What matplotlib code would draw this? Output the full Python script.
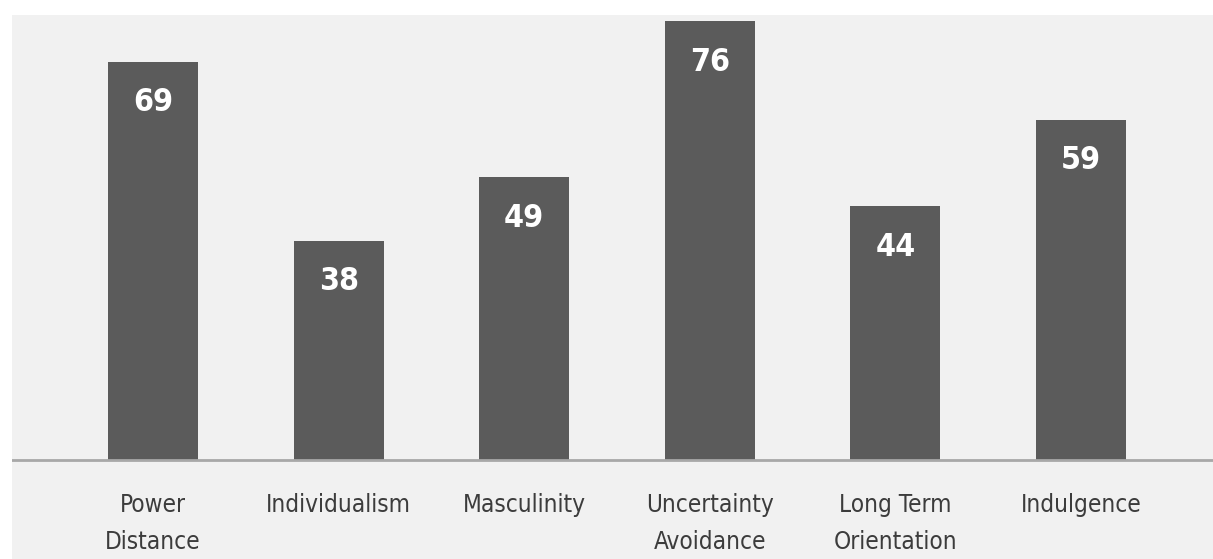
import matplotlib
matplotlib.use('Agg')
import matplotlib.pyplot as plt
from matplotlib.patches import Rectangle

# Hofstede-style dimension scores
dimensions = ['Power\nDistance', 'Individualism', 'Masculinity',
              'Uncertainty\nAvoidance', 'Long Term\nOrientation', 'Indulgence']
scores = [69, 38, 49, 76, 44, 59]

bar_color = '#5b5b5b'
panel_color = '#f1f1f1'
text_color = '#3c3c3c'
fonts = ['DejaVu Sans']

W, H = 1213, 559
fig = plt.figure(figsize=(W / 100, H / 100), dpi=100)
fig.patch.set_facecolor(panel_color)

base_y = 460
ax = fig.add_axes([12 / W, (H - base_y) / H, 1 - 12 / W, base_y / H])
ax.set_facecolor(panel_color)

x = list(range(len(scores)))
ax.bar(x, scores, width=0.485, color=bar_color, zorder=2)

for xi, s in zip(x, scores):
    ax.annotate(str(s), xy=(xi, s), xytext=(0, -29.5), textcoords='offset points',
                ha='center', va='center', color='white', fontsize=23,
                fontweight='bold', family=fonts, fontstretch='condensed', zorder=3)

ax.set_xlim((12 - 153) / 185.6, (W - 153) / 185.6)
ax.set_ylim(0, base_y / 5.77)

for side in ['top', 'right', 'left']:
    ax.spines[side].set_visible(False)
ax.spines['bottom'].set_color('#a8a8a8')
ax.spines['bottom'].set_linewidth(2)
ax.spines['bottom'].set_zorder(4)

ax.set_yticks([])
ax.set_xticks(x)
ax.set_xticklabels(dimensions, fontsize=17.5, color=text_color, family=fonts,
                   fontstretch='condensed', linespacing=1.65)
ax.tick_params(axis='x', length=0, pad=24)

# white scan border along top and left edges
fig.patches.append(Rectangle((0, 1 - 15 / H), 1, 15 / H, transform=fig.transFigure,
                             facecolor='white', edgecolor='none', zorder=10))
fig.patches.append(Rectangle((0, 0), 12 / W, 1, transform=fig.transFigure,
                             facecolor='white', edgecolor='none', zorder=10))

fig.savefig('out.png', dpi=100, facecolor=fig.get_facecolor())
